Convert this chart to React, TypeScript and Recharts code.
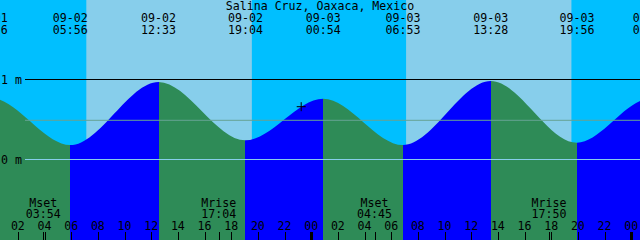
import React from 'react';
import { ComposedChart, Area, XAxis, YAxis, ReferenceArea, ReferenceLine, ReferenceDot } from 'recharts';

const title = 'Salina Cruz, Oaxaca, Mexico';

// tide extremes, local time (first and last lie just outside the window)
const tideDates = ['09-01', '09-01', '09-02', '09-02', '09-02', '09-03', '09-03', '09-03', '09-03', '09-04', '09-04'];
const tideClock = ['18:15', '23:56', '05:56', '12:33', '19:04', '00:54', '06:53', '13:28', '19:56', '01:26', '07:45'];
const tideLevel = [0.25, 0.77, 0.18, 0.97, 0.24, 0.76, 0.18, 0.98, 0.21, 0.76, 0.17];

// daylight
const sunDates = ['09-02', '09-03'];
const sunriseClock = ['07:08', '07:07'];
const sunsetClock = ['19:33', '19:31'];

// moon events
const moonDates = ['09-02', '09-02', '09-03', '09-03'];
const moonClock = ['03:54', '17:04', '04:45', '17:50'];
const moonEvent = ['Mset', 'Mrise', 'Mset', 'Mrise'];

// hour ticks, hours since 09-02 00:00
const hourTicks = [2, 4, 6, 8, 10, 12, 14, 16, 18, 20, 22, 24, 26, 28, 30, 32, 34, 36, 38, 40, 42, 44, 46, 48];
const hourLabels = ['02', '04', '06', '08', '10', '12', '14', '16', '18', '20', '22', '00',
  '02', '04', '06', '08', '10', '12', '14', '16', '18', '20', '22', '00'];

const depthTicks = [0, 1];
const depthLabels = ['0 m', '1 m'];
const meanLevel = 0.49;

const nowDate = '09-02';
const nowClock = '23:15';
const nowLevel = 0.66;

const START = 0.66;
const END = 48.66;
const Y_DOMAIN: [number, number] = [-1.00625, 1.99375];

const FLOOD = '#0000ff';
const EBB = '#2e8b57';
const NIGHT = '#00bfff';
const DAY = '#87ceeb';
const FONT = { fontFamily: '"DejaVu Sans Mono", monospace', fontSize: 11.6, fill: '#000' };

const toHours = (date: string, clock: string) => {
  const day = parseInt(date.slice(3), 10) - 2;
  const [h, m] = clock.split(':').map(Number);
  return day * 24 + h + m / 60;
};

const tideHours = tideDates.map((d, i) => toHours(d, tideClock[i]));
const tideData = tideHours.map((t, i) => ({ t, level: tideLevel[i] }));
const moonHours = moonDates.map((d, i) => toHours(d, moonClock[i]));
const nowHour = toHours(nowDate, nowClock);

const BottomTick = (props: any) => {
  const { x, payload } = props;
  const v = payload.value;
  const m = moonHours.indexOf(v);
  if (m >= 0) {
    return (
      <g>
        <text x={x} y={207} textAnchor="middle" {...FONT}>{moonEvent[m]}</text>
        <text x={x} y={218} textAnchor="middle" {...FONT}>{moonClock[m]}</text>
        <rect x={Math.round(x) - 0.5} y={232} width={1} height={8} fill="#000" shapeRendering="crispEdges" />
      </g>
    );
  }
  const h = hourTicks.indexOf(v);
  if (h < 0) return null;
  const midnight = v % 24 === 0;
  const w = midnight ? 3 : 1;
  return (
    <g>
      <text x={x} y={230} textAnchor="middle" {...FONT}>{hourLabels[h]}</text>
      <rect x={Math.round(x) - w / 2} y={232} width={w} height={8} fill="#000" shapeRendering="crispEdges" />
    </g>
  );
};

const DepthTick = (props: any) => {
  const { y, payload } = props;
  const i = depthTicks.indexOf(payload.value);
  if (i < 0) return null;
  return <text x={1} y={y + 4} textAnchor="start" {...FONT}>{depthLabels[i]}</text>;
};

const TitleLabel = () => (
  <text x={320} y={10} textAnchor="middle" {...FONT}>{title}</text>
);

export default function App() {
  const first = tideHours[0];
  const span = tideHours[tideHours.length - 1] - first;
  const lineStart = START + 25 / (640 / (END - START));

  return (
    <div style={{ width: 640, height: 240, background: NIGHT }}>
      <style>{'body{margin:0}'}</style>
      <ComposedChart width={640} height={240} data={tideData} margin={{ top: 0, right: 0, bottom: -1, left: -1 }}>
        <defs>
          <linearGradient id="water" x1="0" y1="0" x2="1" y2="0">
            {tideHours.slice(0, -1).map((t, i) => {
              const c = tideLevel[i + 1] > tideLevel[i] ? FLOOD : EBB;
              return (
                <React.Fragment key={i}>
                  <stop offset={(t - first) / span} stopColor={c} />
                  <stop offset={(tideHours[i + 1] - first) / span} stopColor={c} />
                </React.Fragment>
              );
            })}
          </linearGradient>
        </defs>
        {sunDates.map((d, i) => (
          <ReferenceArea
            key={d}
            x1={toHours(d, sunriseClock[i])}
            x2={toHours(d, sunsetClock[i])}
            fill={DAY}
            fillOpacity={1}
            stroke="none"
          />
        ))}
        <Area
          type="monotoneX"
          dataKey="level"
          baseValue="dataMin"
          fill="url(#water)"
          fillOpacity={1}
          stroke="none"
          dot={false}
          activeDot={false}
          isAnimationActive={false}
        />
        <ReferenceLine segment={[{ x: lineStart, y: 1 }, { x: END, y: 1 }]} stroke="#000" strokeWidth={1} />
        <ReferenceLine segment={[{ x: lineStart, y: meanLevel }, { x: END, y: meanLevel }]} stroke="#66a394" strokeWidth={1} />
        <ReferenceLine segment={[{ x: lineStart, y: 0 }, { x: END, y: 0 }]} stroke="#87ceeb" strokeWidth={1} />
        <ReferenceDot
          x={nowHour}
          y={nowLevel}
          shape={(p: any) => (
            <path d={`M${p.cx - 4.5} ${p.cy}h9M${p.cx} ${p.cy - 4.5}v9`} stroke="#000" strokeWidth={1} fill="none" />
          )}
        />
        {tideHours.map((t, i) => (
          <ReferenceDot
            key={`tide-${i}`}
            x={t}
            y={tideLevel[i]}
            ifOverflow="visible"
            shape={(p: any) => (
              <g>
                <text x={p.cx} y={22} textAnchor="middle" {...FONT}>{tideDates[i]}</text>
                <text x={p.cx} y={34} textAnchor="middle" {...FONT}>{tideClock[i]}</text>
              </g>
            )}
          />
        ))}
        <XAxis
          dataKey="t"
          type="number"
          domain={[START, END]}
          allowDataOverflow
          ticks={[...hourTicks, ...moonHours]}
          interval={0}
          height={1}
          axisLine={false}
          tickLine={false}
          tickSize={0}
          tick={BottomTick}
          label={<TitleLabel />}
        />
        <YAxis
          type="number"
          domain={Y_DOMAIN}
          allowDataOverflow
          width={1}
          ticks={depthTicks}
          interval={0}
          axisLine={false}
          tickLine={false}
          tickSize={0}
          tick={DepthTick}
        />
      </ComposedChart>
    </div>
  );
}
